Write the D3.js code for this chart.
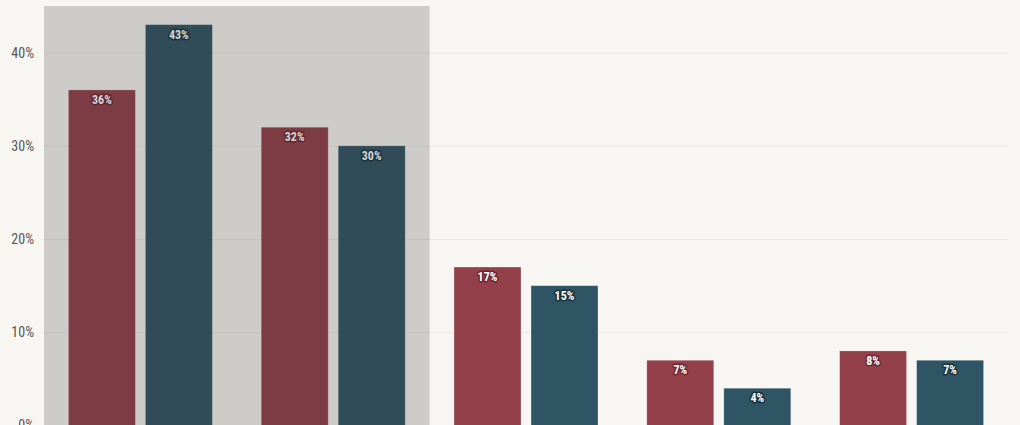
<!DOCTYPE html>
<html>
<head>
<meta charset="utf-8">
<script src="https://cdn.jsdelivr.net/npm/d3@7"></script>
<style>
  body { margin: 0; background: #f8f6f2; }
  svg { display: block; }
</style>
</head>
<body>
<svg id="plot"></svg>
<script>
// chart data
const groups = ["A", "B", "C", "D", "E"];
const series = ["first", "second"];
const firstValues = [36, 32, 17, 7, 8];
const secondValues = [43, 30, 15, 4, 7];
const yTicks = [0, 10, 20, 30, 40];
const highlighted = ["A", "B"];

const width = 1020, height = 425;
const margin = { top: 6, right: 12, bottom: -0.5, left: 44 };
const innerW = width - margin.left - margin.right;
const innerH = height - margin.top - margin.bottom;

const colors = { first: "#93404a", second: "#2f5463" };
const halo = { first: "#6e2530", second: "#17323d" };
const fontStack = "'Roboto Condensed', 'Liberation Sans Narrow', 'DejaVu Sans Condensed', sans-serif";

const data = groups.map((g, i) => ({
  group: g,
  values: [
    { key: "first", value: firstValues[i] },
    { key: "second", value: secondValues[i] }
  ]
}));

const svg = d3.select("#plot")
  .attr("width", width)
  .attr("height", height);

const g = svg.append("g")
  .attr("transform", "translate(" + margin.left + "," + margin.top + ")");

const x0 = d3.scaleBand()
  .domain(groups)
  .range([0, innerW]);

const x1 = d3.scaleBand()
  .domain(series)
  .range([0, x0.bandwidth()])
  .paddingInner(0.13)
  .paddingOuter(0.317);

const y = d3.scaleLinear()
  .domain([0, 45])
  .range([innerH, 0]);

// gridlines + tick labels
const yAxis = g.append("g")
  .call(d3.axisLeft(y).tickValues(yTicks).tickSize(-innerW).tickFormat(d => d + "%"));
yAxis.select(".domain").remove();
yAxis.selectAll(".tick line")
  .attr("stroke", "#ebe8e3")
  .attr("stroke-width", 1);
yAxis.selectAll(".tick text")
  .attr("x", -10)
  .attr("fill", "#555")
  .style("font-family", fontStack)
  .style("font-weight", "400")
  .style("font-size", "14px");

// bars
const groupSel = g.selectAll(".grp")
  .data(data)
  .enter().append("g")
  .attr("class", "grp")
  .attr("transform", d => "translate(" + x0(d.group) + ",0)");

groupSel.selectAll("rect")
  .data(d => d.values)
  .enter().append("rect")
  .attr("x", d => x1(d.key))
  .attr("width", x1.bandwidth())
  .attr("y", d => y(d.value))
  .attr("height", d => innerH - y(d.value))
  .attr("fill", d => colors[d.key])
  .attr("stroke", "rgba(255,255,255,0.35)")
  .attr("stroke-width", 0.8);

// shaded highlight over first two groups
const hx0 = x0(highlighted[0]);
const hx1 = x0(highlighted[highlighted.length - 1]) + x0.bandwidth();
g.append("rect")
  .attr("x", hx0)
  .attr("y", 0)
  .attr("width", hx1 - hx0)
  .attr("height", innerH + 10)
  .attr("fill", "#2f2f2f")
  .attr("fill-opacity", 0.21);

// value labels
groupSel.selectAll(".lbl")
  .data(d => d.values)
  .enter().append("text")
  .attr("class", "lbl")
  .attr("x", d => x1(d.key) + x1.bandwidth() / 2)
  .attr("y", d => y(d.value) + 14)
  .attr("text-anchor", "middle")
  .attr("fill", "#fff")
  .attr("stroke", d => halo[d.key])
  .attr("stroke-width", 3)
  .attr("stroke-linejoin", "round")
  .attr("paint-order", "stroke")
  .style("font-family", fontStack)
  .style("font-weight", "bold")
  .style("font-size", "12px")
  .text(d => d.value + "%");
</script>
</body>
</html>
